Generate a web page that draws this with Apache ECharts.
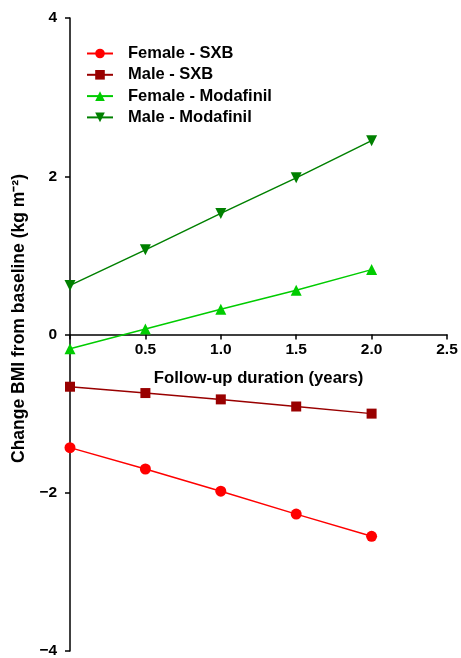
<!DOCTYPE html>
<html>
<head>
<meta charset="utf-8">
<script src="https://cdn.jsdelivr.net/npm/echarts@6/dist/echarts.min.js"></script>
<style>html,body{margin:0;padding:0;background:#fff}#c{width:461px;height:658px}</style>
</head>
<body>
<div id="c"></div>
<script>
var years = [0, 0.5, 1.0, 1.5, 2.0];
var femaleSXB = [-1.43, -1.70, -1.98, -2.27, -2.55];
var maleSXB = [-0.66, -0.74, -0.82, -0.91, -1.00];
var femaleModafinil = [-0.18, 0.07, 0.32, 0.56, 0.82];
var maleModafinil = [0.62, 1.07, 1.53, 1.98, 2.45];
var seriesNames = ['Female - SXB', 'Male - SXB', 'Female - Modafinil', 'Male - Modafinil'];
var xTicks = [0.5, 1.0, 1.5, 2.0, 2.5];
var yTicks = [-4, -2, 0, 2, 4];

function pairs(v){ return years.map(function(x,i){ return [x, v[i]]; }); }
var font = 'Liberation Sans, Arial, sans-serif';
var W = 461, H = 658, gTop = 18, gBottom = 7;
var plotH = H - gTop - gBottom;
var chart = echarts.init(document.getElementById('c'));
function mk(name, data, color, symbol, size){
  return {name:name, type:'line', data:pairs(data), symbol:symbol, symbolSize:size,
    itemStyle:{color:color}, lineStyle:{color:color, width:1.5}, animation:false};
}
chart.setOption({
  backgroundColor:'#fff',
  grid:{left:70, right:14, top:gTop, bottom:gBottom, containLabel:false, outerBoundsMode:'none'},
  legend:{left:81, top:40, orient:'vertical', itemWidth:26, itemHeight:12, itemGap:4.3,
    data:seriesNames,
    textStyle:{fontFamily:font, fontWeight:'bold', fontSize:16.5, color:'#000', padding:[0,0,0,10]}},
  xAxis:{type:'value', min:0, max:2.5, interval:0.5, position:'bottom', offset:-plotH/2,
    axisLine:{onZero:false, lineStyle:{color:'#000', width:1.5}},
    axisTick:{show:true, length:5, lineStyle:{color:'#000', width:1.5}},
    splitLine:{show:false},
    axisLabel:{fontFamily:font, fontWeight:'bold', fontSize:15.5, color:'#000', margin:7,
      formatter:function(v){ return xTicks.indexOf(v) >= 0 ? v.toFixed(1) : ''; }},
    name:'Follow-up duration (years)', nameLocation:'middle', nameGap:35,
    nameTextStyle:{fontFamily:font, fontWeight:'bold', fontSize:16.7, color:'#000'}},
  yAxis:{type:'value', min:-4, max:4, interval:2,
    axisLine:{show:true, onZero:false, lineStyle:{color:'#000', width:1.5}},
    axisTick:{show:true, length:5, lineStyle:{color:'#000', width:1.5}},
    splitLine:{show:false},
    axisLabel:{fontFamily:font, fontWeight:'bold', fontSize:15.5, color:'#000', margin:13,
      formatter:function(v){ return yTicks.indexOf(v) >= 0 ? String(v).replace('-', '\u2212') : ''; }},
    name:'Change BMI from baseline (kg m\u207B\u00B2)', nameLocation:'middle', nameGap:40,
    nameTextStyle:{fontFamily:font, fontWeight:'bold', fontSize:17.5, color:'#000', padding:[0,0,0,32]}},
  series:[
    mk(seriesNames[0], femaleSXB, '#ff0000', 'circle', 11),
    mk(seriesNames[1], maleSXB, '#990000', 'rect', 10),
    mk(seriesNames[2], femaleModafinil, '#00cc00', 'triangle', 11),
    mk(seriesNames[3], maleModafinil, '#008000', 'path://M0,0 L10,0 L5,10 Z', 11)
  ]
});
</script>
</body>
</html>
